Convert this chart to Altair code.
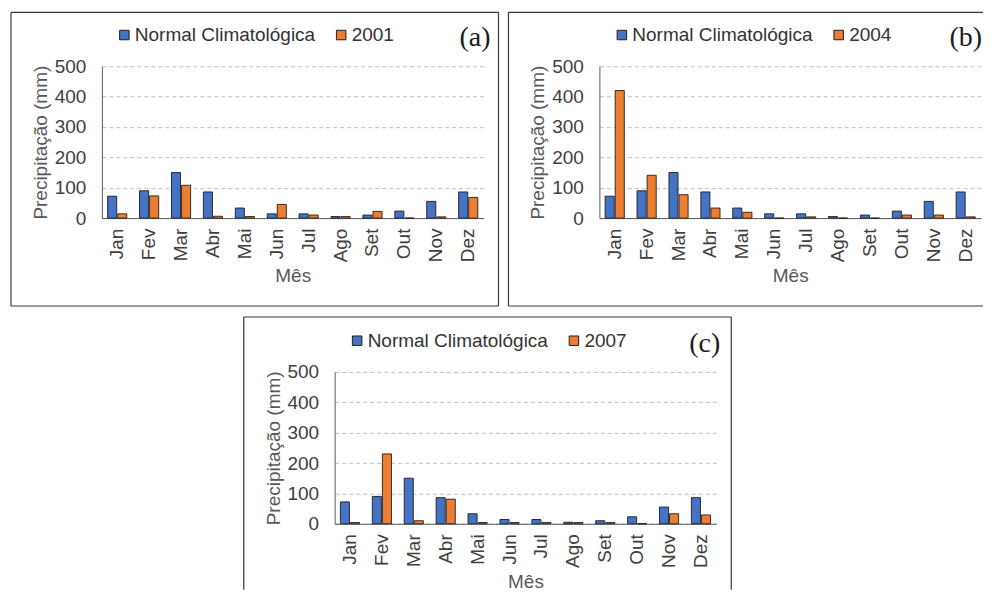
import altair as alt
import pandas as pd

meses = ["Jan", "Fev", "Mar", "Abr", "Mai", "Jun", "Jul", "Ago", "Set", "Out", "Nov", "Dez"]
normal = [72, 90, 150, 86, 33, 14, 14, 5, 10, 23, 55, 86]
ano_2001 = [14, 73, 108, 6, 5, 45, 10, 5, 22, 0, 4, 68]
ano_2004 = [420, 141, 77, 33, 19, 0, 4, 0, 0, 10, 10, 4]
ano_2007 = [4, 230, 10, 81, 4, 4, 4, 4, 4, 0, 33, 29]
y_ticks = [0, 100, 200, 300, 400, 500]

NORMAL = "Normal Climatológica"
BLUE = "#4472C4"
ORANGE = "#ED7D31"
FONT = "Liberation Sans"
FS = 19
W, H = 382, 152


def panel(year_label, values, tag, tag_x, sides):
    df = pd.DataFrame({
        "mes": meses * 2,
        "serie": [NORMAL] * 12 + [year_label] * 12,
        "valor": normal + values,
    })
    order = [NORMAL, year_label]
    bars = alt.Chart(df).mark_bar(stroke="#1f1f1f", strokeWidth=0.9).encode(
        x=alt.X("mes:N", sort=meses,
                scale=alt.Scale(paddingInner=0.4, paddingOuter=0.18),
                axis=alt.Axis(title="Mês", labelAngle=270, ticks=False,
                              labelPadding=10, titlePadding=5,
                              domainColor="#595959", grid=False)),
        xOffset=alt.XOffset("serie:N", sort=order,
                            scale=alt.Scale(domain=order, paddingInner=0.1)),
        y=alt.Y("valor:Q", scale=alt.Scale(domain=[0, 500]),
                axis=alt.Axis(title="Precipitação (mm)", values=y_ticks, ticks=False,
                              labelPadding=16, titlePadding=4,
                              gridDash=[4, 3], gridColor="#c0c0c0",
                              domainColor="#595959")),
        color=alt.Color("serie:N", sort=order,
                        scale=alt.Scale(domain=order, range=[BLUE, ORANGE]),
                        legend=alt.Legend(title=None, orient="none", direction="horizontal",
                                          legendX=13, legendY=-41,
                                          symbolType="square", symbolSize=90,
                                          symbolStrokeColor="#1f1f1f", symbolStrokeWidth=1,
                                          labelFont=FONT, labelFontSize=FS, labelLimit=400,
                                          labelColor="#333333", columnPadding=16,
                                          labelOffset=1)),
    )
    one = pd.DataFrame({"k": [0]})
    layers = [bars]
    for (x1, x2, y1, y2) in sides:
        layers.append(
            alt.Chart(one).mark_rule(color="#3a3a3a", strokeWidth=1.2, clip=False).encode(
                x=alt.value(x1), x2=alt.value(x2), y=alt.value(y1), y2=alt.value(y2))
        )
    layers.append(
        alt.Chart(one).mark_text(font="Liberation Serif", fontSize=28, align="right",
                                 baseline="middle", color="#1a1a1a", clip=False).encode(
            x=alt.value(tag_x), y=alt.value(-28), text=alt.value(tag))
    )
    return alt.layer(*layers).properties(width=W, height=H)


# decorative panel borders, pixel offsets from each plot's origin
L, T = -91, -54
sides_a = [(L, 397, T, T), (L, 397, 240, 240), (L, L, T, 240), (397, 397, T, 240)]
sides_b = [(L, 384, T, T), (L, 384, 240, 240), (L, L, T, 240)]
sides_c = [(L, 397, -55, -55), (L, L, -55, 218), (397, 397, -55, 218)]

a = panel("2001", ano_2001, "(a)", 389, sides_a)
b = panel("2004", ano_2004, "(b)", 383, sides_b)
c = panel("2007", ano_2007, "(c)", 386, sides_c)

spacer = alt.Chart(pd.DataFrame({"k": [0]})).mark_point(opacity=0).encode(
    x=alt.value(0), y=alt.value(0)).properties(width=233, height=1)

row1 = alt.hconcat(a, b, spacing=116, bounds="flush").resolve_scale(
    color="independent", xOffset="independent")
row2 = alt.hconcat(spacer, c, spacing=0, bounds="flush").resolve_scale(
    color="independent", xOffset="independent")

chart = alt.vconcat(row1, row2, spacing=306, bounds="flush").resolve_scale(
    color="independent", xOffset="independent"
).properties(
    padding={"left": 2, "top": 3, "right": 0, "bottom": 0}
).configure_view(strokeWidth=0).configure_axis(
    labelFont=FONT, titleFont=FONT, labelFontSize=FS, titleFontSize=FS,
    labelColor="#404040", titleColor="#595959", titleFontWeight="normal"
)

chart.save("out.html", embed_options={"renderer": "svg", "actions": False})
